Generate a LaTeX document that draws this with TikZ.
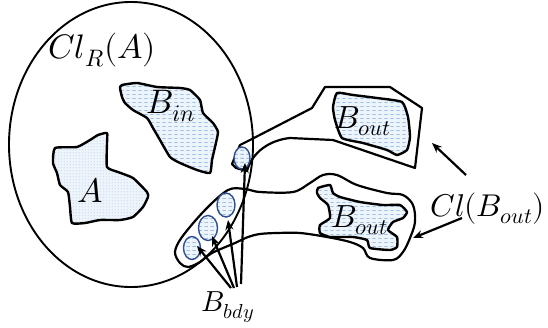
\documentclass[tikz,border=0pt]{standalone}
\usepackage{unicode-math}
\usetikzlibrary{arrows.meta,patterns,shapes.geometric}
\definecolor{dashblue}{HTML}{6FA8DC}
\definecolor{ringblue}{HTML}{2F4F8F}
\definecolor{dotblue}{HTML}{7F9FC8}
\definecolor{bgblue}{HTML}{EEF4FB}
\pgfdeclarepatternformonly{hdash}{\pgfqpoint{0pt}{0pt}}{\pgfqpoint{6pt}{4pt}}{\pgfqpoint{6pt}{4pt}}{%
  \pgfsetlinewidth{0.8pt}\pgfpathmoveto{\pgfqpoint{0.5pt}{2pt}}\pgfpathlineto{\pgfqpoint{4.2pt}{2pt}}\pgfusepath{stroke}}
\pgfdeclarepatternformonly{sdots}{\pgfqpoint{0pt}{0pt}}{\pgfqpoint{3pt}{3pt}}{\pgfqpoint{3pt}{3pt}}{%
  \pgfpathcircle{\pgfqpoint{1.5pt}{1.5pt}}{0.5pt}\pgfusepath{fill}}
\begin{document}
\begin{tikzpicture}[x=1pt,y=-1pt,
  region/.style={draw=black, line width=2.2pt, line join=round},
  blob/.style={draw=black, line width=2.4pt, line join=round, preaction={fill=bgblue}, pattern=hdash, pattern color=dashblue},
  dotblob/.style={draw=black, line width=2.4pt, line join=round, preaction={fill=bgblue}, pattern=sdots, pattern color=dotblue},
  ring/.style={ellipse, draw=ringblue, line width=1.4pt, inner sep=0pt, preaction={fill=bgblue}, pattern=hdash, pattern color=dashblue},
  arr/.style={-{Stealth[length=10pt,width=8pt]}, line width=2.2pt},
  lab/.style={inner sep=0pt, anchor=base west, font=\fontsize{34}{38}\selectfont},
  smalllab/.style={inner sep=0pt, anchor=base west, font=\fontsize{29}{32}\selectfont}]
\useasboundingbox (0,0) rectangle (548,327);
\fill[white] (0,0) rectangle (548,327);

% closure of A
\draw[line width=1.9pt] (131,144.5) ellipse [x radius=122, y radius=142.5];

% upper Cl(B_out)
\draw[region] (325,87) -- (390,87) -- (422,108) -- (415,168) -- (333,140) -- (290,138)
  .. controls (270,140) and (252,152) .. (247,171) -- (236,168) -- (232,164)
  -- (240,145) -- (250,140) -- (312,108) -- cycle;

% lower Cl(B_out) with boundary pocket
\draw[region] plot[smooth cycle, tension=0.55] coordinates {
  (403,195) (413,205) (415,222) (410,238) (403,252) (393,260) (370,258) (363,248)
  (350,242) (327,237) (300,233) (277,233) (260,234) (248,237) (235,243) (212,253)
  (200,262) (188,267) (180,263) (175,252) (182,237) (205,210) (228,190) (245,189)
  (260,192) (293,192) (310,183) (323,175) (337,175) (357,185) (387,193)};

% A
\draw[dotblob] plot[smooth cycle, tension=0.3] coordinates {
  (55,148) (77,147) (90,140) (98,135) (107,133) (107,143) (107,167) (118,172)
  (133,178) (147,192) (148,197) (143,207) (133,217) (120,220) (100,220) (85,223)
  (72,223) (70,207) (68,192) (60,185) (57,173) (53,163)};

% B_in
\draw[blob] plot[smooth cycle, tension=0.3] coordinates {
  (122,85) (137,83) (157,87) (180,88) (190,90) (200,100) (203,113) (213,123)
  (218,132) (215,147) (212,160) (210,173) (197,170) (180,163) (170,157) (160,140)
  (153,128) (147,118) (133,110) (125,103) (122,97) (120,88)};

% upper B_out
\draw[blob] plot[smooth cycle, tension=0.3] coordinates {
  (337,93) (353,95) (377,98) (402,102) (408,117) (410,137) (407,150) (397,155)
  (387,150) (363,143) (342,138) (335,120) (333,107)};

% lower B_out
\draw[blob] plot[smooth cycle, tension=0.3] coordinates {
  (318,188) (330,185) (333,193) (340,197) (360,202) (383,205) (400,205) (407,212)
  (403,218) (393,222) (388,230) (397,237) (397,247) (390,250) (370,248) (367,240)
  (353,237) (330,237) (320,233) (320,225) (330,218) (328,205) (320,198) (317,193)};

% boundary pieces
\node[ring, minimum width=16pt, minimum height=22pt] (e0) at (242,158) {};
\node[ring, minimum width=17pt, minimum height=23pt] (e1) at (192,248) {};
\node[ring, minimum width=19pt, minimum height=25pt] (e2) at (208,228) {};
\node[ring, minimum width=18pt, minimum height=24pt] (e3) at (226,205) {};

% labels
\node[lab] (clra) at (48,58) {$Cl_R(A)$};
\node[lab] (la) at (77,202) {$A$};
\node[lab] (lbin) at (146,113) {$B_{in}$};
\node[lab, font=\fontsize{32}{36}\selectfont] (lbo1) at (334,128) {$B_{out}$};
\node[lab, font=\fontsize{32}{36}\selectfont] (lbo2) at (331,227) {$B_{out}$};
\node[lab, font=\fontsize{31.5}{36}\selectfont] (lcl) at (430,216) {$Cl(B_{out})$};
\node[smalllab] (lbd) at (201,311) {$B_{bdy}$};

% arrows from B_bdy
\coordinate (o1) at (231,288);
\coordinate (o2) at (234,288);
\coordinate (o3) at (237,287);
\coordinate (o4) at (241,284);
\coordinate (t1) at (197,246);
\coordinate (t2) at (212,236);
\coordinate (t3) at (228,220);
\coordinate (t4) at (245,163);
\draw[arr] (o1) -- (t1);
\draw[arr] (o2) -- (t2);
\draw[arr] (o3) -- (t3);
\draw[arr] (o4) -- (t4);

% arrows from Cl(B_out)
\coordinate (c1s) at (466,175);
\coordinate (c1t) at (432,143);
\coordinate (c2s) at (462,218);
\coordinate (c2t) at (413,238);
\draw[arr] (c1s) -- (c1t);
\draw[arr] (c2s) -- (c2t);
\end{tikzpicture}
\end{document}
